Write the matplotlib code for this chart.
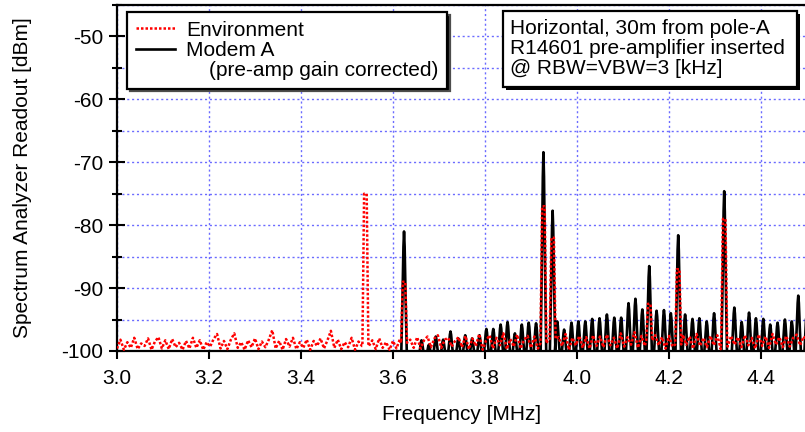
import numpy as np
import matplotlib
matplotlib.use('Agg')
import matplotlib.pyplot as plt
from matplotlib.lines import Line2D
from matplotlib.patches import Rectangle
import matplotlib.patheffects as pe

plt.rcParams['font.family'] = ['Liberation Sans', 'DejaVu Sans']
plt.rcParams['axes.unicode_minus'] = False

# environment noise floor, sampled every 7.5 kHz from 3.0 to 4.5 MHz
env_start, env_stop = 3.0, 4.5
env_floor = [
    -99.6, -98.2, -99.8, -98.6, -99.5, -97.9, -99.7, -98.8, -99.2, -98.0, -99.8, -98.5, -97.8, -99.6, -98.3, -99.7, -98.1, -99.4, -98.7, -99.8,
    -98.4, -99.6, -97.9, -99.5, -98.3, -99.8, -98.6, -99.3, -98.1, -97.3, -99.6, -98.4, -99.7, -98.2, -97.2, -99.5, -98.6, -99.8, -98.3, -99.4,
    -98.0, -99.7, -98.5, -99.4, -98.2, -96.7, -99.6, -98.4, -99.8, -98.1, -99.3, -97.9, -99.7, -98.6, -99.5, -98.2, -99.8, -98.4, -99.2, -98.0,
    -99.6, -98.3, -96.8, -99.5, -98.2, -99.7, -98.6, -99.4, -97.9, -99.8, -98.5, -99.2, -99.2, -99.2, -98.3, -99.7, -98.0, -99.5, -98.6, -99.8,
    -98.4, -99.6, -98.1, -99.3, -96.3, -98.2, -99.5, -97.8, -99.6, -98.3, -97.7, -99.4, -98.0, -97.5, -99.5, -98.2, -97.9, -99.3, -98.4, -97.8,
    -99.4, -97.6, -99.7, -98.0, -99.2, -97.3, -99.8, -98.3, -97.5, -99.6, -97.9, -99.1, -97.2, -99.7, -98.1, -99.3, -97.4, -99.6, -98.2, -97.6,
    -99.5, -97.7, -99.6, -98.0, -99.3, -98.2, -97.5, -99.7, -97.8, -99.2, -97.3, -99.8, -97.9, -99.1, -97.6, -99.5, -97.8, -99.6, -97.5, -99.2,
    -97.7, -99.4, -97.4, -99.1, -97.9, -99.6, -97.2, -99.3, -97.8, -99.0, -97.0, -99.5, -97.6, -99.2, -97.9, -99.4, -97.5, -99.1, -97.8, -99.6,
    -97.6, -99.3, -97.9, -99.5, -97.4, -99.0, -97.7, -99.6, -97.3, -99.2, -97.9, -99.4, -97.6, -99.1, -97.5, -99.7, -97.8, -99.3, -97.6, -99.0,
    -97.8, -99.4, -97.5, -99.1, -97.9, -99.6, -97.4, -99.2, -97.7, -99.5, -97.3, -99.0, -97.8, -99.4, -97.6, -99.3, -97.9, -97.4, -99.1, -97.7,
    -98.4,
]
env_peak_freq = [3.540, 3.624, 3.927, 3.947, 4.157, 4.220, 4.320]
env_peak_level = [-75.0, -89.0, -77.0, -82.0, -92.5, -87.0, -79.0]

# Modem A comb lines (pre-amp gain corrected)
modem_freq = [3.624, 3.662, 3.678, 3.693, 3.709, 3.725, 3.742, 3.757, 3.772, 3.788,
              3.803, 3.818, 3.834, 3.849, 3.865, 3.880, 3.895, 3.911, 3.927, 3.947,
              3.957, 3.972, 3.988, 4.003, 4.018, 4.033, 4.049, 4.065, 4.081, 4.096,
              4.112, 4.127, 4.142, 4.157, 4.173, 4.189, 4.204, 4.220, 4.235, 4.251,
              4.266, 4.282, 4.298, 4.320, 4.342, 4.358, 4.374, 4.389, 4.405, 4.420,
              4.436, 4.452, 4.467, 4.481, 4.500]
modem_level = [-81.0, -98.3, -99.0, -97.7, -98.2, -96.9, -98.0, -97.5, -98.0, -97.5,
               -96.5, -96.5, -95.8, -95.4, -97.2, -95.8, -95.5, -95.6, -68.4, -77.7,
               -95.3, -96.6, -95.5, -95.3, -95.3, -94.9, -94.8, -94.2, -94.7, -94.7,
               -92.4, -91.7, -93.4, -86.5, -93.6, -93.5, -94.0, -81.6, -94.2, -94.9,
               -94.8, -95.3, -94.0, -74.6, -93.1, -95.4, -93.9, -94.8, -94.9, -95.8,
               -95.5, -95.0, -95.3, -91.2, -92.6]

BASE = -101.0
FS = 15


def env_trace():
    f = np.linspace(env_start, env_stop, len(env_floor))
    y = np.array(env_floor)
    keep = np.ones(len(f), bool)
    xs, ys = [], []
    for pf, pl in zip(env_peak_freq, env_peak_level):
        keep &= np.abs(f - pf) > 0.007
        fl = np.interp(pf, f, y)
        xs += [pf - 0.0065, pf - 0.0028, pf + 0.0028, pf + 0.0065]
        ys += [fl, pl, pl, fl]
    xs = np.concatenate([f[keep], xs])
    ys = np.concatenate([y[keep], ys])
    order = np.argsort(xs, kind='stable')
    return xs[order], ys[order]


def modem_trace():
    off = [-0.0062, -0.0035, -0.0013, 0.0, 0.0013, 0.0035, 0.0062]
    frac = [0.0, 0.45, 0.88, 1.0, 0.88, 0.45, 0.0]
    xs, ys = [3.0], [BASE]
    for pf, pl in zip(modem_freq, modem_level):
        for o, k in zip(off, frac):
            xs.append(pf + o)
            ys.append(BASE + k * (pl - BASE))
    return xs, ys


fig = plt.figure(figsize=(8.05, 4.32), dpi=100)
ax = fig.add_axes([117 / 805, 81 / 432, 690 / 805, 346 / 432])

mx, my = modem_trace()
ex, ey = env_trace()
ax.plot(mx, my, color='black', lw=1.9, zorder=3, solid_joinstyle='round')
ax.plot(ex, ey, color='#ff0000', lw=1.8, ls=(0, (1, 0.8)), zorder=4)

ax.set_xlim(3.0, 4.5)
ax.set_ylim(-100, -45)
ax.set_xticks(np.arange(3.0, 4.41, 0.2))
ax.set_xticklabels(['%.1f' % v for v in np.arange(3.0, 4.41, 0.2)])
ax.set_yticks(np.arange(-100, -49, 10))
ax.set_yticks(np.arange(-95, -44, 10), minor=True)

grid_kw = dict(color='#6b6bff', ls=(0, (1.5, 2)), lw=1.0)
ax.grid(True, axis='y', which='both', **grid_kw)
ax.grid(True, axis='x', which='major', **grid_kw)
ax.set_axisbelow(True)

ax.tick_params(axis='y', which='major', direction='inout', length=12, width=1.5, labelsize=FS, pad=4)
ax.tick_params(axis='y', which='minor', direction='inout', length=6.5, width=1.5)
ax.tick_params(axis='x', which='major', direction='out', length=6, width=1.5, labelsize=FS, pad=7)
for s in ax.spines.values():
    s.set_linewidth(1.6)
ax.spines['right'].set_visible(False)

ax.set_xlabel('Frequency [MHz]', fontsize=FS, labelpad=12)
ax.set_ylabel('Spectrum Analyzer Readout [dBm]', fontsize=FS, labelpad=21)

handles = [Line2D([], [], color='#ff0000', lw=1.8, ls=(0, (1, 0.8))),
           Line2D([], [], color='black', lw=1.9),
           Line2D([], [], ls='none')]
labels = ['Environment', 'Modem A', '    (pre-amp gain corrected)']
leg = ax.legend(handles, labels, loc='upper left', bbox_to_anchor=(10 / 690, 1 - 7 / 346),
                borderaxespad=0, fancybox=False, framealpha=1, edgecolor='black',
                shadow={'facecolor': 'black', 'alpha': 1}, fontsize=FS,
                handlelength=1.9, handletextpad=0.5, labelspacing=0.05, borderpad=0.42)
leg.get_frame().set_linewidth(1.6)
leg.set_zorder(10)

# info box, placed in axes fraction (box spans 503..797 px, 11..87 px from top)
box = Rectangle(((503 - 117) / 690, 1 - (87 - 5) / 346), 294 / 690, 76 / 346,
                transform=ax.transAxes, fc='white', ec='black', lw=1.6, zorder=9, clip_on=False)
box.set_path_effects([pe.SimplePatchShadow(offset=(2, -2), shadow_rgbFace='black', alpha=1), pe.Normal()])
ax.add_patch(box)
ax.text((510 - 117) / 690, 1 - (48.5 - 5) / 346,
        'Horizontal, 30m from pole-A\nR14601 pre-amplifier inserted\n@ RBW=VBW=3 [kHz]',
        transform=ax.transAxes, ha='left', va='center', fontsize=FS, linespacing=1.04, zorder=10)

fig.savefig('out.png', dpi=100)
